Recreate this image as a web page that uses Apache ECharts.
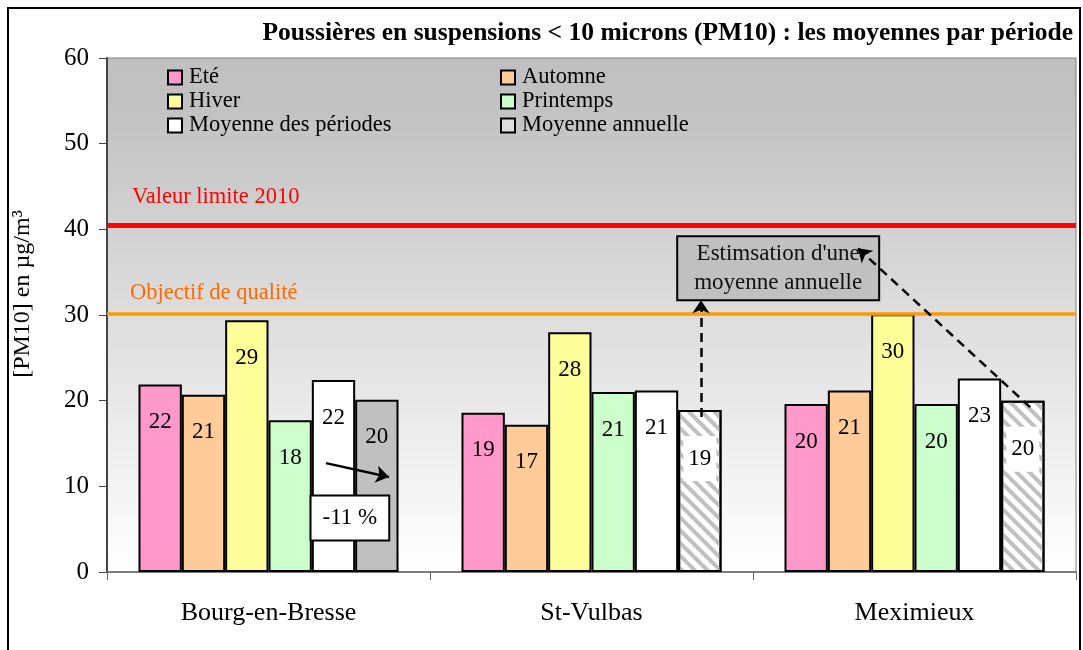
<!DOCTYPE html>
<html><head><meta charset="utf-8">
<script src="https://cdn.jsdelivr.net/npm/echarts@6/dist/echarts.min.js"></script>
<style>
html,body{margin:0;padding:0;overflow:hidden;background:#fff}
#c{width:1083px;height:650px}
#frame{position:absolute;left:7px;top:7px;width:1074px;height:700px;border:2px solid #000;box-sizing:border-box;pointer-events:none}
</style></head>
<body><div id="c"></div><div id="frame"></div>
<script>
// ---- data ----
const categories = ['Bourg-en-Bresse', 'St-Vulbas', 'Meximieux'];
const seriesNames = ['Eté', 'Automne', 'Hiver', 'Printemps', 'Moyenne des périodes', 'Moyenne annuelle'];
const ete = [21.9, 18.6, 19.6];
const automne = [20.7, 17.2, 21.2];
const hiver = [29.4, 28.0, 30.1];
const printemps = [17.7, 21.0, 19.6];
const moyPeriodes = [22.4, 21.2, 22.6];
const moyAnnuelle = [20.1, 18.9, 20.0];
const annualEstimated = [false, true, true];
const yTicks = [0, 10, 20, 30, 40, 50, 60];
const limitValue = 40.5;      // "Valeur limite 2010" line as drawn
const qualityObjective = 30.2; // "Objectif de qualité" line as drawn
const limitText = 'Valeur limite 2010';
const qualityText = 'Objectif de qualité';
// annotations, in (category units 0..3, µg/m3)
const trendArrow = [[0.678, 12.71], [0.873, 11.08]];
const trendText = '-11 %';
const trendTextPos = [0.752, 6.30];
const estimArrows = [[[1.839, 18.08], [1.839, 31.72]], [[2.858, 19.24], [2.325, 37.78]]];
const estimText = "Estimsation d'une\nmoyenne annuelle";
const estimTextPos = [2.078, 35.45];

const serif = 'Liberation Serif';
const colors = ['#ff99cc', '#ffcc99', '#ffff99', '#ccffcc', '#ffffff', '#c0c0c0'];
const values = [ete, automne, hiver, printemps, moyPeriodes, moyAnnuelle];

const hatch = {
  symbol: 'rect', symbolSize: 1, dashArrayX: [[1, 0]], dashArrayY: [4, 5],
  rotation: Math.PI / 4, color: '#c0c0c0'
};

const labelBase = {
  show: true, position: 'insideTop', distance: 26, color: '#000',
  fontFamily: serif, fontSize: 23, formatter: p => Math.round(p.value)
};

const barSeries = values.map((arr, i) => {
  const isAnnual = i === 5;
  return {
    name: seriesNames[i], type: 'bar', xAxisIndex: 0, yAxisIndex: 0,
    barGap: '0%', barCategoryGap: '19.5%',
    itemStyle: { color: colors[i], borderColor: '#000', borderWidth: 2 },
    label: labelBase,
    data: arr.map((v, k) => {
      if (isAnnual && annualEstimated[k]) {
        return {
          value: v,
          itemStyle: { color: '#ffffff', decal: hatch },
          label: { backgroundColor: '#ffffff', padding: [11, 5] }
        };
      }
      return { value: v };
    }),
    z: 2
  };
});

const legendText = { fontFamily: serif, fontSize: 22.5, color: '#000', padding: [0, 0, 0, 2] };

const option = {
  animation: false,
  backgroundColor: '#ffffff',
  title: {
    text: 'Poussières en suspensions < 10 microns (PM10) : les moyennes par période',
    right: 5, top: 15,
    textStyle: { fontFamily: serif, fontSize: 25.5, fontWeight: 'bold', color: '#000' }
  },
  legend: [
    {
      data: [seriesNames[0], seriesNames[2], seriesNames[4]],
      orient: 'vertical', left: 162, top: 61, itemWidth: 14, itemHeight: 14, itemGap: 1,
      icon: 'rect',
      itemStyle: { borderColor: '#000', borderWidth: 2 },
      textStyle: legendText
    },
    {
      data: [seriesNames[1], seriesNames[3], {name: seriesNames[5], itemStyle: {color: '#dddddd'}}],
      orient: 'vertical', left: 495, top: 61, itemWidth: 14, itemHeight: 14, itemGap: 1,
      icon: 'rect',
      itemStyle: { borderColor: '#000', borderWidth: 2 },
      textStyle: legendText
    }
  ],
  grid: {
    left: 107, right: 7, top: 58, bottom: 78, show: true,
    borderColor: '#808080', borderWidth: 1,
    backgroundColor: {
      type: 'linear', x: 0, y: 0, x2: 0, y2: 1,
      colorStops: [{offset: 0, color: '#c0c0c0'}, {offset: 0.08, color: '#c1c1c1'}, {offset: 1, color: '#ffffff'}]
    }
  },
  xAxis: [
    {
      type: 'category', data: categories,
      axisLine: { lineStyle: { color: '#666', width: 1.5 } },
      axisTick: { show: true, length: 8, lineStyle: { color: '#666' } },
      axisLabel: { fontFamily: serif, fontSize: 26, color: '#000', margin: 28 }
    },
    { type: 'value', min: 0, max: 3, show: false }
  ],
  yAxis: {
    type: 'value', min: yTicks[0], max: yTicks[yTicks.length - 1], interval: 10,
    name: '[PM10] en µg/m³', nameLocation: 'middle', nameGap: 72,
    nameTextStyle: { fontFamily: serif, fontSize: 24, color: '#000', padding: [0, 0, 0, 42] },
    axisLine: { show: true, lineStyle: { color: '#444', width: 2 } },
    axisTick: { show: true, length: 8, lineStyle: { color: '#444', width: 1 } },
    axisLabel: { fontFamily: serif, fontSize: 25, color: '#000', margin: 18 },
    splitLine: { show: false }
  },
  series: barSeries.concat([
    {
      name: 'refs', type: 'line', xAxisIndex: 0, data: [], silent: true, z: 5,
      markLine: {
        silent: true, symbol: ['none', 'none'], animation: false, z: 5,
        data: [
          { yAxis: limitValue, lineStyle: { color: '#ff0000', width: 5, type: 'solid' },
            label: { show: true, formatter: limitText, position: 'insideStartTop', distance: [25, 16],
              color: '#ff0000', fontFamily: serif, fontSize: 22.5 } },
          { yAxis: qualityObjective, lineStyle: { color: '#ff9900', width: 3.5, type: 'solid' },
            label: { show: true, formatter: qualityText, position: 'insideStartTop', distance: [23, 9],
              color: '#ff6a00', fontFamily: serif, fontSize: 22.5 } }
        ]
      }
    },
    {
      name: 'boxWhite', type: 'scatter', xAxisIndex: 1, symbolSize: 0, z: 6, silent: true,
      itemStyle: { opacity: 1 },
      data: [{ value: trendTextPos, name: trendText }],
      label: { show: true, position: 'inside', formatter: '{b}', fontFamily: serif, fontSize: 23, color: '#000',
        backgroundColor: '#ffffff', borderColor: '#000', borderWidth: 2, padding: [10, 11] }
    },
    {
      name: 'boxGray', type: 'scatter', xAxisIndex: 1, symbolSize: 0, z: 6, silent: true,
      itemStyle: { opacity: 1 },
      data: [{ value: estimTextPos, name: estimText }],
      label: { show: true, position: 'inside', formatter: '{b}', fontFamily: serif, fontSize: 23, color: '#111',
        lineHeight: 29, backgroundColor: '#c0c0c0', borderColor: '#000', borderWidth: 2, padding: [2, 16] }
    },
    {
      name: 'arrows', type: 'line', xAxisIndex: 1, data: [], silent: true, z: 20,
      markLine: {
        silent: true, animation: false, symbol: ['none', 'arrow'], symbolSize: 13, z: 20,
        label: { show: false },
        data: [
          [{ coord: trendArrow[0], lineStyle: { type: 'solid', color: '#000', width: 2.5 } }, { coord: trendArrow[1] }],
          [{ coord: estimArrows[0][0], lineStyle: { type: [9, 6], color: '#000', width: 2.5 } }, { coord: estimArrows[0][1] }],
          [{ coord: estimArrows[1][0], lineStyle: { type: [9, 6], color: '#000', width: 2.5 } }, { coord: estimArrows[1][1] }]
        ]
      }
    }
  ])
};

const chart = echarts.init(document.getElementById('c'), null, { renderer: 'canvas' });
chart.setOption(option);
</script>
</body></html>
